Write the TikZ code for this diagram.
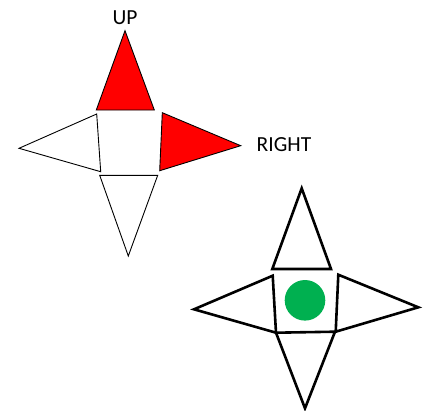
\documentclass[tikz,border=0pt]{standalone}
\usepackage{fontspec}
\setmainfont{Carlito}
\usepackage{tikz}
\definecolor{arrowred}{RGB}{255, 0, 0}
\definecolor{dotgreen}{RGB}{0, 176, 80}
\usetikzlibrary{positioning}
\tikzset{
    thinpart/.style={draw=black, line width=0.9pt, line join=miter},
    thickpart/.style={draw=black, line width=2.6pt, line join=miter},
    label/.style={font=\fontsize{21.5}{24}\selectfont, inner sep=0pt}
}

\begin{document}
\begin{tikzpicture}[x=1pt, y=-1pt]
    \useasboundingbox (0,0) rectangle (425,410);

    % first sign, thin outlines
    \draw[thinpart, fill=arrowred] (125,30.7) -- (154.3,110) -- (96.3,110) -- cycle;
    \draw[thinpart, fill=arrowred] (162.3,112.7) -- (240.7,145.7) -- (159.7,170.7) -- cycle;
    \draw[thinpart, fill=white] (96.7,114) -- (100.7,171.7) -- (19,148.3) -- cycle;
    \draw[thinpart, fill=white] (99.7,175.3) -- (157.7,175.3) -- (128.3,256) -- cycle;
    \node[label] (up) at (125,18) {UP};
    \node[label, anchor=west] (right) at (256.5,144.5) {RIGHT};

    % second sign, thick outlines
    \draw[thickpart] (301.7,188.3) -- (331,269) -- (272.3,269) -- cycle;
    \draw[thickpart] (272.7,275.7) -- (276,332.7) -- (194,309.3) -- cycle;
    \draw[thickpart] (338.3,274.7) -- (418.3,307.3) -- (335.7,331.7) -- cycle;
    \draw[thickpart] (276,332.7) -- (335,331.7) -- (305,408.3) -- cycle;
    \fill[dotgreen] (305,300.3) circle (20.3);
\end{tikzpicture}
\end{document}
